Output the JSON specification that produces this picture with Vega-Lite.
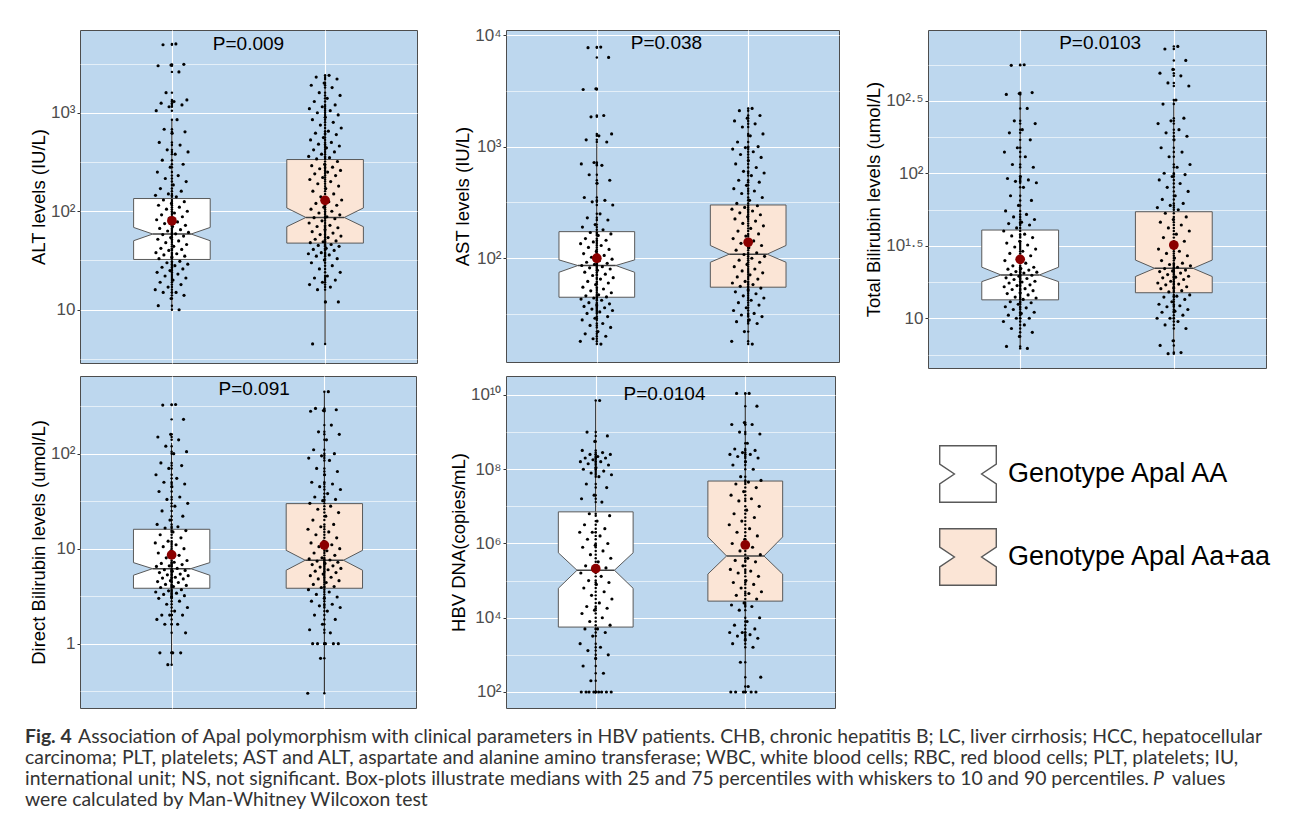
{
"$schema": "https://vega.github.io/schema/vega-lite/v6.json",
"background": "white",
"padding": {"left": 25, "top": 25, "right": 5, "bottom": 5},
"autosize": {"type": "pad"},
"columns": 3,
"align": "none",
"bounds": "flush",
"spacing": {"row": 8, "column": 89},
"resolve": {"scale": {"x": "independent", "y": "independent", "fill": "independent"}, "axis": {"x": "independent", "y": "independent"}, "legend": {"fill": "independent"}},
"datasets": {
"stats": [
{"p":"ALT","g":1,"geno":"Genotype Apal AA","lo":10,"q1":32.4,"n1":50.2,"med":58.7,"n2":68.5,"q3":134.6,"hi":850,"mean":80},
{"p":"ALT","g":2,"geno":"Genotype Apal Aa+aa","lo":4.5,"q1":47.5,"n1":69.7,"med":86.5,"n2":108,"q3":335,"hi":2400,"mean":129},
{"p":"AST","g":1,"geno":"Genotype Apal AA","lo":17,"q1":44.7,"n1":74.8,"med":86,"n2":96.6,"q3":173,"hi":1070,"mean":100},
{"p":"AST","g":2,"geno":"Genotype Apal Aa+aa","lo":17,"q1":55,"n1":92,"med":108.7,"n2":130,"q3":300,"hi":2240,"mean":139},
{"p":"TB","g":1,"geno":"Genotype Apal AA","lo":6.2,"q1":13.4,"n1":17.9,"med":19.9,"n2":22.5,"q3":40.6,"hi":360,"mean":25.5},
{"p":"TB","g":2,"geno":"Genotype Apal Aa+aa","lo":5.7,"q1":15.0,"n1":19.4,"med":22.1,"n2":25.2,"q3":54.3,"hi":320,"mean":32},
{"p":"DB","g":1,"geno":"Genotype Apal AA","lo":0.6,"q1":3.83,"n1":5.25,"med":6.16,"n2":7.13,"q3":16,"hi":130,"mean":8.6},
{"p":"DB","g":2,"geno":"Genotype Apal Aa+aa","lo":0.3,"q1":3.83,"n1":5.93,"med":7.55,"n2":9.6,"q3":29.8,"hi":457,"mean":10.9},
{"p":"HBV","g":1,"geno":"Genotype Apal AA","lo":100,"q1":5600,"n1":62000,"med":190000,"n2":560000,"q3":7100000,"hi":6800000000,"mean":210000},
{"p":"HBV","g":2,"geno":"Genotype Apal Aa+aa","lo":100,"q1":28000,"n1":150000,"med":460000,"n2":1500000,"q3":48000000,"hi":11500000000,"mean":910000}
],
"alt": [
{"g":1,"v":5000},{"g":1,"v":4900},{"g":1,"v":3100},{"g":1,"v":3050},{"g":1,"v":3000},{"g":1,"v":2600},{"g":1,"v":1600},{"g":1,"v":1350},{"g":1,"v":1300},{"g":1,"v":1250},{"g":1,"v":1200},{"g":1,"v":1150},{"g":1,"v":1050},{"g":1,"v":850},{"g":1,"v":680},{"g":1,"v":640},{"g":1,"v":620},{"g":1,"v":500},{"g":1,"v":470},{"g":1,"v":420},{"g":1,"v":400},{"g":1,"v":380},{"g":1,"v":330},{"g":1,"v":300},{"g":1,"v":280},{"g":1,"v":250},{"g":1,"v":230},{"g":1,"v":215},{"g":1,"v":200},{"g":1,"v":185},{"g":1,"v":170},{"g":1,"v":160},{"g":1,"v":150},{"g":1,"v":145},{"g":1,"v":140},{"g":1,"v":130},{"g":1,"v":125},{"g":1,"v":120},{"g":1,"v":115},{"g":1,"v":110},{"g":1,"v":105},{"g":1,"v":100},{"g":1,"v":96},{"g":1,"v":92},{"g":1,"v":88},{"g":1,"v":85},{"g":1,"v":82},{"g":1,"v":78},{"g":1,"v":75},{"g":1,"v":72},{"g":1,"v":70},{"g":1,"v":67},{"g":1,"v":65},{"g":1,"v":63},{"g":1,"v":61},{"g":1,"v":59},{"g":1,"v":58},{"g":1,"v":56},{"g":1,"v":54},{"g":1,"v":52},{"g":1,"v":50},{"g":1,"v":48},{"g":1,"v":46},{"g":1,"v":44},{"g":1,"v":42},{"g":1,"v":41},{"g":1,"v":40},{"g":1,"v":38},{"g":1,"v":37},{"g":1,"v":36},{"g":1,"v":35},{"g":1,"v":34},{"g":1,"v":33},{"g":1,"v":31},{"g":1,"v":30},{"g":1,"v":29},{"g":1,"v":28},{"g":1,"v":27},{"g":1,"v":26},{"g":1,"v":25},{"g":1,"v":24},{"g":1,"v":23},{"g":1,"v":22},{"g":1,"v":21},{"g":1,"v":20},{"g":1,"v":19},{"g":1,"v":18},{"g":1,"v":17},{"g":1,"v":16},{"g":1,"v":15},{"g":1,"v":15},{"g":1,"v":14},{"g":1,"v":13},{"g":1,"v":11},{"g":1,"v":10},
{"g":2,"v":2400},{"g":2,"v":2300},{"g":2,"v":2200},{"g":2,"v":2000},{"g":2,"v":1900},{"g":2,"v":1800},{"g":2,"v":1600},{"g":2,"v":1500},{"g":2,"v":1400},{"g":2,"v":1300},{"g":2,"v":1200},{"g":2,"v":1150},{"g":2,"v":1100},{"g":2,"v":1050},{"g":2,"v":1000},{"g":2,"v":950},{"g":2,"v":900},{"g":2,"v":850},{"g":2,"v":800},{"g":2,"v":750},{"g":2,"v":700},{"g":2,"v":650},{"g":2,"v":620},{"g":2,"v":600},{"g":2,"v":560},{"g":2,"v":530},{"g":2,"v":500},{"g":2,"v":480},{"g":2,"v":460},{"g":2,"v":440},{"g":2,"v":420},{"g":2,"v":400},{"g":2,"v":380},{"g":2,"v":360},{"g":2,"v":350},{"g":2,"v":340},{"g":2,"v":320},{"g":2,"v":300},{"g":2,"v":290},{"g":2,"v":280},{"g":2,"v":270},{"g":2,"v":260},{"g":2,"v":250},{"g":2,"v":240},{"g":2,"v":230},{"g":2,"v":220},{"g":2,"v":210},{"g":2,"v":200},{"g":2,"v":190},{"g":2,"v":180},{"g":2,"v":170},{"g":2,"v":160},{"g":2,"v":150},{"g":2,"v":140},{"g":2,"v":130},{"g":2,"v":125},{"g":2,"v":120},{"g":2,"v":115},{"g":2,"v":110},{"g":2,"v":105},{"g":2,"v":100},{"g":2,"v":96},{"g":2,"v":92},{"g":2,"v":88},{"g":2,"v":86},{"g":2,"v":84},{"g":2,"v":80},{"g":2,"v":76},{"g":2,"v":72},{"g":2,"v":70},{"g":2,"v":68},{"g":2,"v":65},{"g":2,"v":62},{"g":2,"v":60},{"g":2,"v":58},{"g":2,"v":56},{"g":2,"v":54},{"g":2,"v":52},{"g":2,"v":50},{"g":2,"v":49},{"g":2,"v":48},{"g":2,"v":46},{"g":2,"v":45},{"g":2,"v":44},{"g":2,"v":42},{"g":2,"v":41},{"g":2,"v":40},{"g":2,"v":38},{"g":2,"v":37},{"g":2,"v":36},{"g":2,"v":35},{"g":2,"v":33},{"g":2,"v":32},{"g":2,"v":30},{"g":2,"v":28},{"g":2,"v":26},{"g":2,"v":24},{"g":2,"v":22},{"g":2,"v":21},{"g":2,"v":20},{"g":2,"v":19},{"g":2,"v":18},{"g":2,"v":17},{"g":2,"v":16},{"g":2,"v":12},{"g":2,"v":12},{"g":2,"v":4.5}
],
"ast": [
{"g":1,"v":7800},{"g":1,"v":7700},{"g":1,"v":6300},{"g":1,"v":3300},{"g":1,"v":3250},{"g":1,"v":1900},{"g":1,"v":1850},{"g":1,"v":1300},{"g":1,"v":1250},{"g":1,"v":1150},{"g":1,"v":1100},{"g":1,"v":720},{"g":1,"v":700},{"g":1,"v":680},{"g":1,"v":560},{"g":1,"v":500},{"g":1,"v":470},{"g":1,"v":350},{"g":1,"v":330},{"g":1,"v":320},{"g":1,"v":300},{"g":1,"v":250},{"g":1,"v":230},{"g":1,"v":220},{"g":1,"v":200},{"g":1,"v":190},{"g":1,"v":180},{"g":1,"v":170},{"g":1,"v":165},{"g":1,"v":160},{"g":1,"v":150},{"g":1,"v":145},{"g":1,"v":140},{"g":1,"v":135},{"g":1,"v":130},{"g":1,"v":125},{"g":1,"v":120},{"g":1,"v":115},{"g":1,"v":110},{"g":1,"v":106},{"g":1,"v":102},{"g":1,"v":98},{"g":1,"v":95},{"g":1,"v":92},{"g":1,"v":90},{"g":1,"v":88},{"g":1,"v":86},{"g":1,"v":84},{"g":1,"v":82},{"g":1,"v":80},{"g":1,"v":78},{"g":1,"v":75},{"g":1,"v":72},{"g":1,"v":70},{"g":1,"v":67},{"g":1,"v":65},{"g":1,"v":62},{"g":1,"v":60},{"g":1,"v":58},{"g":1,"v":55},{"g":1,"v":53},{"g":1,"v":51},{"g":1,"v":49},{"g":1,"v":47},{"g":1,"v":46},{"g":1,"v":45},{"g":1,"v":44},{"g":1,"v":43},{"g":1,"v":42},{"g":1,"v":40},{"g":1,"v":39},{"g":1,"v":38},{"g":1,"v":37},{"g":1,"v":36},{"g":1,"v":35},{"g":1,"v":34},{"g":1,"v":33},{"g":1,"v":32},{"g":1,"v":30},{"g":1,"v":29},{"g":1,"v":28},{"g":1,"v":26},{"g":1,"v":25},{"g":1,"v":24},{"g":1,"v":22},{"g":1,"v":21},{"g":1,"v":20},{"g":1,"v":19},{"g":1,"v":18},{"g":1,"v":17},
{"g":2,"v":2200},{"g":2,"v":2100},{"g":2,"v":1900},{"g":2,"v":1800},{"g":2,"v":1700},{"g":2,"v":1600},{"g":2,"v":1500},{"g":2,"v":1300},{"g":2,"v":1250},{"g":2,"v":1100},{"g":2,"v":1000},{"g":2,"v":980},{"g":2,"v":950},{"g":2,"v":900},{"g":2,"v":850},{"g":2,"v":800},{"g":2,"v":750},{"g":2,"v":700},{"g":2,"v":650},{"g":2,"v":600},{"g":2,"v":580},{"g":2,"v":550},{"g":2,"v":500},{"g":2,"v":480},{"g":2,"v":450},{"g":2,"v":420},{"g":2,"v":400},{"g":2,"v":380},{"g":2,"v":350},{"g":2,"v":330},{"g":2,"v":310},{"g":2,"v":295},{"g":2,"v":285},{"g":2,"v":275},{"g":2,"v":265},{"g":2,"v":255},{"g":2,"v":245},{"g":2,"v":235},{"g":2,"v":225},{"g":2,"v":215},{"g":2,"v":205},{"g":2,"v":195},{"g":2,"v":185},{"g":2,"v":175},{"g":2,"v":165},{"g":2,"v":158},{"g":2,"v":150},{"g":2,"v":143},{"g":2,"v":136},{"g":2,"v":130},{"g":2,"v":124},{"g":2,"v":118},{"g":2,"v":112},{"g":2,"v":108},{"g":2,"v":104},{"g":2,"v":100},{"g":2,"v":96},{"g":2,"v":92},{"g":2,"v":88},{"g":2,"v":84},{"g":2,"v":80},{"g":2,"v":77},{"g":2,"v":74},{"g":2,"v":71},{"g":2,"v":68},{"g":2,"v":65},{"g":2,"v":62},{"g":2,"v":60},{"g":2,"v":58},{"g":2,"v":56},{"g":2,"v":54},{"g":2,"v":52},{"g":2,"v":50},{"g":2,"v":48},{"g":2,"v":46},{"g":2,"v":44},{"g":2,"v":42},{"g":2,"v":40},{"g":2,"v":38},{"g":2,"v":36},{"g":2,"v":34},{"g":2,"v":32},{"g":2,"v":31},{"g":2,"v":30},{"g":2,"v":28},{"g":2,"v":27},{"g":2,"v":26},{"g":2,"v":22},{"g":2,"v":18},{"g":2,"v":17}
],
"tb": [
{"g":1,"v":560},{"g":1,"v":555},{"g":1,"v":360},{"g":1,"v":355},{"g":1,"v":350},{"g":1,"v":280},{"g":1,"v":230},{"g":1,"v":220},{"g":1,"v":200},{"g":1,"v":190},{"g":1,"v":170},{"g":1,"v":150},{"g":1,"v":140},{"g":1,"v":130},{"g":1,"v":115},{"g":1,"v":110},{"g":1,"v":95},{"g":1,"v":92},{"g":1,"v":90},{"g":1,"v":88},{"g":1,"v":86},{"g":1,"v":80},{"g":1,"v":70},{"g":1,"v":65},{"g":1,"v":60},{"g":1,"v":55},{"g":1,"v":52},{"g":1,"v":50},{"g":1,"v":48},{"g":1,"v":46},{"g":1,"v":45},{"g":1,"v":44},{"g":1,"v":42},{"g":1,"v":40},{"g":1,"v":38},{"g":1,"v":37},{"g":1,"v":36},{"g":1,"v":34},{"g":1,"v":33},{"g":1,"v":32},{"g":1,"v":31},{"g":1,"v":30},{"g":1,"v":29},{"g":1,"v":28},{"g":1,"v":27},{"g":1,"v":26},{"g":1,"v":25},{"g":1,"v":24},{"g":1,"v":23},{"g":1,"v":22.5},{"g":1,"v":22},{"g":1,"v":21.8},{"g":1,"v":21.5},{"g":1,"v":21},{"g":1,"v":20.8},{"g":1,"v":20.5},{"g":1,"v":20},{"g":1,"v":19.8},{"g":1,"v":19.5},{"g":1,"v":19},{"g":1,"v":18.8},{"g":1,"v":18.5},{"g":1,"v":18},{"g":1,"v":17.8},{"g":1,"v":17.5},{"g":1,"v":17},{"g":1,"v":16.8},{"g":1,"v":16.5},{"g":1,"v":16},{"g":1,"v":15.8},{"g":1,"v":15.5},{"g":1,"v":15},{"g":1,"v":14.8},{"g":1,"v":14.5},{"g":1,"v":14},{"g":1,"v":13.8},{"g":1,"v":13.5},{"g":1,"v":13},{"g":1,"v":12.8},{"g":1,"v":12.5},{"g":1,"v":12},{"g":1,"v":11.8},{"g":1,"v":11.5},{"g":1,"v":11},{"g":1,"v":10.8},{"g":1,"v":10.5},{"g":1,"v":10},{"g":1,"v":10},{"g":1,"v":9.5},{"g":1,"v":9},{"g":1,"v":8.5},{"g":1,"v":8},{"g":1,"v":7.5},{"g":1,"v":6.4},{"g":1,"v":6.2},
{"g":2,"v":750},{"g":2,"v":720},{"g":2,"v":600},{"g":2,"v":520},{"g":2,"v":490},{"g":2,"v":470},{"g":2,"v":420},{"g":2,"v":400},{"g":2,"v":320},{"g":2,"v":300},{"g":2,"v":240},{"g":2,"v":230},{"g":2,"v":220},{"g":2,"v":200},{"g":2,"v":190},{"g":2,"v":180},{"g":2,"v":170},{"g":2,"v":150},{"g":2,"v":140},{"g":2,"v":130},{"g":2,"v":115},{"g":2,"v":110},{"g":2,"v":100},{"g":2,"v":98},{"g":2,"v":95},{"g":2,"v":90},{"g":2,"v":85},{"g":2,"v":80},{"g":2,"v":75},{"g":2,"v":70},{"g":2,"v":66},{"g":2,"v":62},{"g":2,"v":60},{"g":2,"v":58},{"g":2,"v":56},{"g":2,"v":53},{"g":2,"v":50},{"g":2,"v":48},{"g":2,"v":46},{"g":2,"v":44},{"g":2,"v":42},{"g":2,"v":40},{"g":2,"v":38},{"g":2,"v":36},{"g":2,"v":34},{"g":2,"v":32},{"g":2,"v":30},{"g":2,"v":29},{"g":2,"v":28},{"g":2,"v":27},{"g":2,"v":26},{"g":2,"v":25},{"g":2,"v":24},{"g":2,"v":23.5},{"g":2,"v":23},{"g":2,"v":22.5},{"g":2,"v":22},{"g":2,"v":21.5},{"g":2,"v":21.2},{"g":2,"v":21},{"g":2,"v":20.5},{"g":2,"v":20},{"g":2,"v":19.5},{"g":2,"v":19.2},{"g":2,"v":19},{"g":2,"v":18.5},{"g":2,"v":18},{"g":2,"v":17.5},{"g":2,"v":17.2},{"g":2,"v":17},{"g":2,"v":16.5},{"g":2,"v":16.2},{"g":2,"v":16},{"g":2,"v":15.5},{"g":2,"v":15.2},{"g":2,"v":14.5},{"g":2,"v":14.2},{"g":2,"v":14},{"g":2,"v":13.5},{"g":2,"v":13},{"g":2,"v":12.5},{"g":2,"v":12.2},{"g":2,"v":12},{"g":2,"v":11.5},{"g":2,"v":11.2},{"g":2,"v":11},{"g":2,"v":10.5},{"g":2,"v":10},{"g":2,"v":10},{"g":2,"v":9.5},{"g":2,"v":9},{"g":2,"v":8.5},{"g":2,"v":7},{"g":2,"v":6.5},{"g":2,"v":5.8},{"g":2,"v":5.7}
],
"db": [
{"g":1,"v":330},{"g":1,"v":325},{"g":1,"v":230},{"g":1,"v":160},{"g":1,"v":150},{"g":1,"v":140},{"g":1,"v":120},{"g":1,"v":105},{"g":1,"v":100},{"g":1,"v":80},{"g":1,"v":75},{"g":1,"v":70},{"g":1,"v":60},{"g":1,"v":55},{"g":1,"v":50},{"g":1,"v":48},{"g":1,"v":45},{"g":1,"v":40},{"g":1,"v":35},{"g":1,"v":33},{"g":1,"v":30},{"g":1,"v":28},{"g":1,"v":25},{"g":1,"v":22},{"g":1,"v":20},{"g":1,"v":18},{"g":1,"v":17},{"g":1,"v":16.5},{"g":1,"v":15.5},{"g":1,"v":15},{"g":1,"v":14},{"g":1,"v":13},{"g":1,"v":12},{"g":1,"v":11.5},{"g":1,"v":11},{"g":1,"v":10.5},{"g":1,"v":10},{"g":1,"v":9.5},{"g":1,"v":9},{"g":1,"v":8.5},{"g":1,"v":8},{"g":1,"v":7.5},{"g":1,"v":7.2},{"g":1,"v":7},{"g":1,"v":6.8},{"g":1,"v":6.6},{"g":1,"v":6.5},{"g":1,"v":6.2},{"g":1,"v":6},{"g":1,"v":5.9},{"g":1,"v":5.8},{"g":1,"v":5.6},{"g":1,"v":5.4},{"g":1,"v":5.3},{"g":1,"v":5.2},{"g":1,"v":5},{"g":1,"v":4.9},{"g":1,"v":4.8},{"g":1,"v":4.6},{"g":1,"v":4.5},{"g":1,"v":4.4},{"g":1,"v":4.2},{"g":1,"v":4.1},{"g":1,"v":4},{"g":1,"v":3.9},{"g":1,"v":3.7},{"g":1,"v":3.6},{"g":1,"v":3.5},{"g":1,"v":3.4},{"g":1,"v":3.3},{"g":1,"v":3.2},{"g":1,"v":3.1},{"g":1,"v":3},{"g":1,"v":2.8},{"g":1,"v":2.6},{"g":1,"v":2.4},{"g":1,"v":2.2},{"g":1,"v":2},{"g":1,"v":2},{"g":1,"v":2},{"g":1,"v":1.8},{"g":1,"v":1.6},{"g":1,"v":1.6},{"g":1,"v":1.3},{"g":1,"v":0.8},{"g":1,"v":0.8},{"g":1,"v":0.8},{"g":1,"v":0.6},
{"g":2,"v":450},{"g":2,"v":300},{"g":2,"v":290},{"g":2,"v":285},{"g":2,"v":280},{"g":2,"v":200},{"g":2,"v":170},{"g":2,"v":160},{"g":2,"v":140},{"g":2,"v":110},{"g":2,"v":100},{"g":2,"v":95},{"g":2,"v":90},{"g":2,"v":85},{"g":2,"v":70},{"g":2,"v":65},{"g":2,"v":60},{"g":2,"v":50},{"g":2,"v":48},{"g":2,"v":45},{"g":2,"v":42},{"g":2,"v":38},{"g":2,"v":35},{"g":2,"v":33},{"g":2,"v":32},{"g":2,"v":30},{"g":2,"v":28},{"g":2,"v":26},{"g":2,"v":24},{"g":2,"v":22},{"g":2,"v":20},{"g":2,"v":18},{"g":2,"v":17},{"g":2,"v":16},{"g":2,"v":15},{"g":2,"v":14},{"g":2,"v":13},{"g":2,"v":12},{"g":2,"v":11.5},{"g":2,"v":11},{"g":2,"v":10.5},{"g":2,"v":10},{"g":2,"v":9.5},{"g":2,"v":9},{"g":2,"v":8.5},{"g":2,"v":8},{"g":2,"v":7.8},{"g":2,"v":7.6},{"g":2,"v":7.4},{"g":2,"v":7.2},{"g":2,"v":7},{"g":2,"v":6.8},{"g":2,"v":6.6},{"g":2,"v":6.4},{"g":2,"v":6.2},{"g":2,"v":6},{"g":2,"v":5.8},{"g":2,"v":5.6},{"g":2,"v":5.4},{"g":2,"v":5.2},{"g":2,"v":5},{"g":2,"v":4.8},{"g":2,"v":4.6},{"g":2,"v":4.4},{"g":2,"v":4.2},{"g":2,"v":4},{"g":2,"v":3.9},{"g":2,"v":3.7},{"g":2,"v":3.5},{"g":2,"v":3.3},{"g":2,"v":3.1},{"g":2,"v":3},{"g":2,"v":2.8},{"g":2,"v":2.6},{"g":2,"v":2.5},{"g":2,"v":2.4},{"g":2,"v":2.2},{"g":2,"v":2},{"g":2,"v":1.8},{"g":2,"v":1.6},{"g":2,"v":1.4},{"g":2,"v":1.3},{"g":2,"v":1},{"g":2,"v":1},{"g":2,"v":1},{"g":2,"v":1},{"g":2,"v":1},{"g":2,"v":0.7},{"g":2,"v":0.3}
],
"hbv": [
{"g":1,"v":7.1e9},{"g":1,"v":1.0e9},{"g":1,"v":7.9e8},{"g":1,"v":5.6e8},{"g":1,"v":3.2e8},{"g":1,"v":2.8e8},{"g":1,"v":2.5e8},{"g":1,"v":2.5e8},{"g":1,"v":2.2e8},{"g":1,"v":2.0e8},{"g":1,"v":2.0e8},{"g":1,"v":1.8e8},{"g":1,"v":1.6e8},{"g":1,"v":1.6e8},{"g":1,"v":1.4e8},{"g":1,"v":1.3e8},{"g":1,"v":1.1e8},{"g":1,"v":1.0e8},{"g":1,"v":8.9e7},{"g":1,"v":7.9e7},{"g":1,"v":7.1e7},{"g":1,"v":6.3e7},{"g":1,"v":4.0e7},{"g":1,"v":3.2e7},{"g":1,"v":2.0e7},{"g":1,"v":1.6e7},{"g":1,"v":1.3e7},{"g":1,"v":6.3e6},{"g":1,"v":5.6e6},{"g":1,"v":4.0e6},{"g":1,"v":3.2e6},{"g":1,"v":2.5e6},{"g":1,"v":2.0e6},{"g":1,"v":2.0e6},{"g":1,"v":1.6e6},{"g":1,"v":1.3e6},{"g":1,"v":1.0e6},{"g":1,"v":8.9e5},{"g":1,"v":7.9e5},{"g":1,"v":6.3e5},{"g":1,"v":5.0e5},{"g":1,"v":4.0e5},{"g":1,"v":3.2e5},{"g":1,"v":2.5e5},{"g":1,"v":2.2e5},{"g":1,"v":2.0e5},{"g":1,"v":1.6e5},{"g":1,"v":1.3e5},{"g":1,"v":1.0e5},{"g":1,"v":8.9e4},{"g":1,"v":7.9e4},{"g":1,"v":6.3e4},{"g":1,"v":5.0e4},{"g":1,"v":4.0e4},{"g":1,"v":3.2e4},{"g":1,"v":2.5e4},{"g":1,"v":2.0e4},{"g":1,"v":1.8e4},{"g":1,"v":1.6e4},{"g":1,"v":1.3e4},{"g":1,"v":1.0e4},{"g":1,"v":7.9e3},{"g":1,"v":6.3e3},{"g":1,"v":5.0e3},{"g":1,"v":5.0e3},{"g":1,"v":4.0e3},{"g":1,"v":3.2e3},{"g":1,"v":2.0e3},{"g":1,"v":1.6e3},{"g":1,"v":1.3e3},{"g":1,"v":1.0e3},{"g":1,"v":800},{"g":1,"v":500},{"g":1,"v":320},{"g":1,"v":200},{"g":1,"v":100},{"g":1,"v":100},{"g":1,"v":100},{"g":1,"v":100},{"g":1,"v":100},{"g":1,"v":100},{"g":1,"v":100},{"g":1,"v":100},
{"g":2,"v":1.1e10},{"g":2,"v":1.1e10},{"g":2,"v":5.0e9},{"g":2,"v":1.8e9},{"g":2,"v":1.6e9},{"g":2,"v":1.6e9},{"g":2,"v":1.0e9},{"g":2,"v":8.9e8},{"g":2,"v":5.0e8},{"g":2,"v":3.5e8},{"g":2,"v":3.2e8},{"g":2,"v":2.8e8},{"g":2,"v":2.5e8},{"g":2,"v":2.5e8},{"g":2,"v":2.2e8},{"g":2,"v":2.0e8},{"g":2,"v":1.6e8},{"g":2,"v":1.3e8},{"g":2,"v":1.0e8},{"g":2,"v":6.3e7},{"g":2,"v":5.0e7},{"g":2,"v":4.5e7},{"g":2,"v":4.0e7},{"g":2,"v":3.2e7},{"g":2,"v":2.5e7},{"g":2,"v":2.0e7},{"g":2,"v":1.6e7},{"g":2,"v":1.4e7},{"g":2,"v":1.0e7},{"g":2,"v":7.9e6},{"g":2,"v":6.3e6},{"g":2,"v":5.0e6},{"g":2,"v":4.0e6},{"g":2,"v":3.2e6},{"g":2,"v":2.5e6},{"g":2,"v":2.0e6},{"g":2,"v":1.6e6},{"g":2,"v":1.3e6},{"g":2,"v":1.0e6},{"g":2,"v":7.9e5},{"g":2,"v":6.3e5},{"g":2,"v":5.0e5},{"g":2,"v":4.0e5},{"g":2,"v":3.5e5},{"g":2,"v":3.2e5},{"g":2,"v":2.5e5},{"g":2,"v":2.0e5},{"g":2,"v":1.8e5},{"g":2,"v":1.6e5},{"g":2,"v":1.3e5},{"g":2,"v":1.0e5},{"g":2,"v":8.9e4},{"g":2,"v":7.9e4},{"g":2,"v":6.3e4},{"g":2,"v":5.0e4},{"g":2,"v":4.5e4},{"g":2,"v":4.0e4},{"g":2,"v":3.2e4},{"g":2,"v":2.5e4},{"g":2,"v":2.2e4},{"g":2,"v":2.0e4},{"g":2,"v":1.6e4},{"g":2,"v":1.0e4},{"g":2,"v":7.9e3},{"g":2,"v":6.3e3},{"g":2,"v":5.0e3},{"g":2,"v":4.0e3},{"g":2,"v":4.0e3},{"g":2,"v":3.5e3},{"g":2,"v":3.2e3},{"g":2,"v":2.8e3},{"g":2,"v":2.5e3},{"g":2,"v":2.0e3},{"g":2,"v":1.6e3},{"g":2,"v":630},{"g":2,"v":250},{"g":2,"v":140},{"g":2,"v":100},{"g":2,"v":100},{"g":2,"v":100},{"g":2,"v":100},{"g":2,"v":100}
]
},
"concat": [
{
"width": 337, "height": 333,
"layer": [
{"data": {"name": "stats"}, "transform": [{"filter": "datum.p=='ALT'"}],
 "mark": {"type": "rule", "color": "black", "strokeWidth": 0.9},
 "encoding": {
  "x": {"field": "g", "type": "quantitative", "scale": {"domain": [0.4, 2.6], "nice": false, "zero": false}, "axis": {"values": [1, 2], "grid": true, "gridWidth": 1.1, "labels": false, "ticks": false, "domain": false, "title": null}},
  "y": {"field": "lo", "type": "quantitative", "scale": {"type": "log", "domain": [2.88, 6920], "nice": false}, "axis": {"title": "ALT levels (IU/L)", "values": [3.1623, 10, 31.623, 100, 316.23, 1000, 3162.3], "labelExpr": "abs(log(datum.value)/LN10-1)<0.01 ? '10' : abs(log(datum.value)/LN10-2)<0.01 ? '10²' : abs(log(datum.value)/LN10-3)<0.01 ? '10³' : ''", "gridWidth": {"condition": {"test": "abs(log(datum.value)/LN10-round(log(datum.value)/LN10))>0.01", "value": 0.6}, "value": 1.2}, "tickOpacity": {"condition": {"test": "abs(log(datum.value)/LN10-round(log(datum.value)/LN10))>0.01", "value": 0}, "value": 1}}},
  "y2": {"field": "hi"}
 }},
{"data": {"name": "stats"}, "transform": [{"filter": "datum.p=='ALT'"}, {"fold": ["q1", "n1", "med", "n2", "q3"], "as": ["k", "yv"]}, {"calculate": "datum.g - (datum.k=='med' ? 0.125 : 0.25)", "as": "xl"}, {"calculate": "datum.g + (datum.k=='med' ? 0.125 : 0.25)", "as": "xr"}],
 "mark": {"type": "area", "orient": "horizontal", "stroke": "#595959", "strokeWidth": 1, "opacity": 1},
 "encoding": {
  "y": {"field": "yv", "type": "quantitative", "scale": {"type": "log", "domain": [2.88, 6920], "nice": false}},
  "x": {"field": "xl", "type": "quantitative", "scale": {"domain": [0.4, 2.6], "nice": false, "zero": false}, "stack": null},
  "x2": {"field": "xr"},
  "detail": {"field": "g"},
  "fill": {"field": "geno", "type": "nominal", "scale": {"domain": ["Genotype Apal AA", "Genotype Apal Aa+aa"], "range": ["#FFFFFF", "#FBE5D6"]}, "legend": null}
 }},
{"data": {"name": "stats"}, "transform": [{"filter": "datum.p=='ALT'"}, {"calculate": "datum.g-0.125", "as": "ml"}, {"calculate": "datum.g+0.125", "as": "mr"}],
 "mark": {"type": "rule", "color": "#404040", "strokeWidth": 1.5},
 "encoding": {"x": {"field": "ml", "type": "quantitative", "scale": {"domain": [0.4, 2.6], "nice": false, "zero": false}}, "x2": {"field": "mr"}, "y": {"field": "med", "type": "quantitative", "scale": {"type": "log", "domain": [2.88, 6920], "nice": false}}}},
{"data": {"name": "alt"},
 "mark": {"type": "circle", "color": "black", "size": 6, "opacity": 1},
 "encoding": {"x": {"field": "g", "type": "quantitative", "scale": {"domain": [0.4, 2.6], "nice": false, "zero": false}}, "y": {"field": "v", "type": "quantitative", "scale": {"type": "log", "domain": [2.88, 6920], "nice": false}}}},
{"data": {"name": "alt"}, "transform": [{"window": [{"op": "row_number", "as": "i"}], "groupby": ["g"]}, {"calculate": "datum.g + ((datum.i*0.618034)%1 - 0.5)*0.22", "as": "xj"}],
 "mark": {"type": "circle", "color": "black", "size": 10, "opacity": 1},
 "encoding": {"x": {"field": "xj", "type": "quantitative", "scale": {"domain": [0.4, 2.6], "nice": false, "zero": false}}, "y": {"field": "v", "type": "quantitative", "scale": {"type": "log", "domain": [2.88, 6920], "nice": false}}}},
{"data": {"name": "stats"}, "transform": [{"filter": "datum.p=='ALT'"}],
 "mark": {"type": "circle", "color": "#8B0000", "size": 95, "opacity": 1},
 "encoding": {"x": {"field": "g", "type": "quantitative", "scale": {"domain": [0.4, 2.6], "nice": false, "zero": false}}, "y": {"field": "mean", "type": "quantitative", "scale": {"type": "log", "domain": [2.88, 6920], "nice": false}}}},
{"data": {"values": [{"t": "P=0.009"}]},
 "mark": {"type": "text", "font": "Liberation Sans", "fontSize": 19, "color": "black"},
 "encoding": {"text": {"field": "t"}, "x": {"datum": 1.5}, "y": {"datum": 5000}}}
]
},
{
"width": 333, "height": 332,
"layer": [
{"data": {"name": "stats"}, "transform": [{"filter": "datum.p=='AST'"}],
 "mark": {"type": "rule", "color": "black", "strokeWidth": 0.9},
 "encoding": {
  "x": {"field": "g", "type": "quantitative", "scale": {"domain": [0.4, 2.6], "nice": false, "zero": false}, "axis": {"values": [1, 2], "grid": true, "gridWidth": 1.1, "labels": false, "ticks": false, "domain": false, "title": null}},
  "y": {"field": "lo", "type": "quantitative", "scale": {"type": "log", "domain": [11.75, 11090], "nice": false}, "axis": {"title": "AST levels (IU/L)", "values": [31.623, 100, 316.23, 1000, 3162.3, 10000], "labelExpr": "abs(log(datum.value)/LN10-2)<0.01 ? '10²' : abs(log(datum.value)/LN10-3)<0.01 ? '10³' : abs(log(datum.value)/LN10-4)<0.01 ? '10⁴' : ''", "gridWidth": {"condition": {"test": "abs(log(datum.value)/LN10-round(log(datum.value)/LN10))>0.01", "value": 0.6}, "value": 1.2}, "tickOpacity": {"condition": {"test": "abs(log(datum.value)/LN10-round(log(datum.value)/LN10))>0.01", "value": 0}, "value": 1}}},
  "y2": {"field": "hi"}
 }},
{"data": {"name": "stats"}, "transform": [{"filter": "datum.p=='AST'"}, {"fold": ["q1", "n1", "med", "n2", "q3"], "as": ["k", "yv"]}, {"calculate": "datum.g - (datum.k=='med' ? 0.125 : 0.25)", "as": "xl"}, {"calculate": "datum.g + (datum.k=='med' ? 0.125 : 0.25)", "as": "xr"}],
 "mark": {"type": "area", "orient": "horizontal", "stroke": "#595959", "strokeWidth": 1, "opacity": 1},
 "encoding": {
  "y": {"field": "yv", "type": "quantitative", "scale": {"type": "log", "domain": [11.75, 11090], "nice": false}},
  "x": {"field": "xl", "type": "quantitative", "scale": {"domain": [0.4, 2.6], "nice": false, "zero": false}, "stack": null},
  "x2": {"field": "xr"},
  "detail": {"field": "g"},
  "fill": {"field": "geno", "type": "nominal", "scale": {"domain": ["Genotype Apal AA", "Genotype Apal Aa+aa"], "range": ["#FFFFFF", "#FBE5D6"]}, "legend": null}
 }},
{"data": {"name": "stats"}, "transform": [{"filter": "datum.p=='AST'"}, {"calculate": "datum.g-0.125", "as": "ml"}, {"calculate": "datum.g+0.125", "as": "mr"}],
 "mark": {"type": "rule", "color": "#404040", "strokeWidth": 1.5},
 "encoding": {"x": {"field": "ml", "type": "quantitative", "scale": {"domain": [0.4, 2.6], "nice": false, "zero": false}}, "x2": {"field": "mr"}, "y": {"field": "med", "type": "quantitative", "scale": {"type": "log", "domain": [11.75, 11090], "nice": false}}}},
{"data": {"name": "ast"},
 "mark": {"type": "circle", "color": "black", "size": 6, "opacity": 1},
 "encoding": {"x": {"field": "g", "type": "quantitative", "scale": {"domain": [0.4, 2.6], "nice": false, "zero": false}}, "y": {"field": "v", "type": "quantitative", "scale": {"type": "log", "domain": [11.75, 11090], "nice": false}}}},
{"data": {"name": "ast"}, "transform": [{"window": [{"op": "row_number", "as": "i"}], "groupby": ["g"]}, {"calculate": "datum.g + ((datum.i*0.618034)%1 - 0.5)*0.22", "as": "xj"}],
 "mark": {"type": "circle", "color": "black", "size": 10, "opacity": 1},
 "encoding": {"x": {"field": "xj", "type": "quantitative", "scale": {"domain": [0.4, 2.6], "nice": false, "zero": false}}, "y": {"field": "v", "type": "quantitative", "scale": {"type": "log", "domain": [11.75, 11090], "nice": false}}}},
{"data": {"name": "stats"}, "transform": [{"filter": "datum.p=='AST'"}],
 "mark": {"type": "circle", "color": "#8B0000", "size": 95, "opacity": 1},
 "encoding": {"x": {"field": "g", "type": "quantitative", "scale": {"domain": [0.4, 2.6], "nice": false, "zero": false}}, "y": {"field": "mean", "type": "quantitative", "scale": {"type": "log", "domain": [11.75, 11090], "nice": false}}}},
{"data": {"values": [{"t": "P=0.038"}]},
 "mark": {"type": "text", "font": "Liberation Sans", "fontSize": 19, "color": "black"},
 "encoding": {"text": {"field": "t"}, "x": {"datum": 1.46}, "y": {"datum": 8470}}}
]
},
{
"width": 338, "height": 338,
"layer": [
{"data": {"name": "stats"}, "transform": [{"filter": "datum.p=='TB'"}],
 "mark": {"type": "rule", "color": "black", "strokeWidth": 0.9},
 "encoding": {
  "x": {"field": "g", "type": "quantitative", "scale": {"domain": [0.4, 2.6], "nice": false, "zero": false}, "axis": {"values": [1, 2], "grid": true, "gridWidth": 1.1, "labels": false, "ticks": false, "domain": false, "title": null}},
  "y": {"field": "lo", "type": "quantitative", "scale": {"type": "log", "domain": [4.54, 973], "nice": false}, "axis": {"title": "Total Bilirubin levels (umol/L)", "values": [5.6234, 10, 17.783, 31.623, 56.234, 100, 177.83, 316.23, 562.34], "labelExpr": "abs(log(datum.value)/LN10-1)<0.01 ? '10' : abs(log(datum.value)/LN10-1.5)<0.01 ? '10¹·⁵' : abs(log(datum.value)/LN10-2)<0.01 ? '10²' : abs(log(datum.value)/LN10-2.5)<0.01 ? '10²·⁵' : ''", "gridWidth": {"condition": {"test": "abs(2*log(datum.value)/LN10-round(2*log(datum.value)/LN10))>0.01", "value": 0.6}, "value": 1.2}, "tickOpacity": {"condition": {"test": "abs(2*log(datum.value)/LN10-round(2*log(datum.value)/LN10))>0.01", "value": 0}, "value": 1}}},
  "y2": {"field": "hi"}
 }},
{"data": {"name": "stats"}, "transform": [{"filter": "datum.p=='TB'"}, {"fold": ["q1", "n1", "med", "n2", "q3"], "as": ["k", "yv"]}, {"calculate": "datum.g - (datum.k=='med' ? 0.125 : 0.25)", "as": "xl"}, {"calculate": "datum.g + (datum.k=='med' ? 0.125 : 0.25)", "as": "xr"}],
 "mark": {"type": "area", "orient": "horizontal", "stroke": "#595959", "strokeWidth": 1, "opacity": 1},
 "encoding": {
  "y": {"field": "yv", "type": "quantitative", "scale": {"type": "log", "domain": [4.54, 973], "nice": false}},
  "x": {"field": "xl", "type": "quantitative", "scale": {"domain": [0.4, 2.6], "nice": false, "zero": false}, "stack": null},
  "x2": {"field": "xr"},
  "detail": {"field": "g"},
  "fill": {"field": "geno", "type": "nominal", "scale": {"domain": ["Genotype Apal AA", "Genotype Apal Aa+aa"], "range": ["#FFFFFF", "#FBE5D6"]}, "legend": null}
 }},
{"data": {"name": "stats"}, "transform": [{"filter": "datum.p=='TB'"}, {"calculate": "datum.g-0.125", "as": "ml"}, {"calculate": "datum.g+0.125", "as": "mr"}],
 "mark": {"type": "rule", "color": "#404040", "strokeWidth": 1.5},
 "encoding": {"x": {"field": "ml", "type": "quantitative", "scale": {"domain": [0.4, 2.6], "nice": false, "zero": false}}, "x2": {"field": "mr"}, "y": {"field": "med", "type": "quantitative", "scale": {"type": "log", "domain": [4.54, 973], "nice": false}}}},
{"data": {"name": "tb"},
 "mark": {"type": "circle", "color": "black", "size": 6, "opacity": 1},
 "encoding": {"x": {"field": "g", "type": "quantitative", "scale": {"domain": [0.4, 2.6], "nice": false, "zero": false}}, "y": {"field": "v", "type": "quantitative", "scale": {"type": "log", "domain": [4.54, 973], "nice": false}}}},
{"data": {"name": "tb"}, "transform": [{"window": [{"op": "row_number", "as": "i"}], "groupby": ["g"]}, {"calculate": "datum.g + ((datum.i*0.618034)%1 - 0.5)*0.22", "as": "xj"}],
 "mark": {"type": "circle", "color": "black", "size": 10, "opacity": 1},
 "encoding": {"x": {"field": "xj", "type": "quantitative", "scale": {"domain": [0.4, 2.6], "nice": false, "zero": false}}, "y": {"field": "v", "type": "quantitative", "scale": {"type": "log", "domain": [4.54, 973], "nice": false}}}},
{"data": {"name": "stats"}, "transform": [{"filter": "datum.p=='TB'"}],
 "mark": {"type": "circle", "color": "#8B0000", "size": 95, "opacity": 1},
 "encoding": {"x": {"field": "g", "type": "quantitative", "scale": {"domain": [0.4, 2.6], "nice": false, "zero": false}}, "y": {"field": "mean", "type": "quantitative", "scale": {"type": "log", "domain": [4.54, 973], "nice": false}}}},
{"data": {"values": [{"t": "P=0.0103"}]},
 "mark": {"type": "text", "font": "Liberation Sans", "fontSize": 19, "color": "black"},
 "encoding": {"text": {"field": "t"}, "x": {"datum": 1.52}, "y": {"datum": 789}}}
]
},
{
"width": 336, "height": 332,
"layer": [
{"data": {"name": "stats"}, "transform": [{"filter": "datum.p=='DB'"}],
 "mark": {"type": "rule", "color": "black", "strokeWidth": 0.9},
 "encoding": {
  "x": {"field": "g", "type": "quantitative", "scale": {"domain": [0.4, 2.6], "nice": false, "zero": false}, "axis": {"values": [1, 2], "grid": true, "gridWidth": 1.1, "labels": false, "ticks": false, "domain": false, "title": null}},
  "y": {"field": "lo", "type": "quantitative", "scale": {"type": "log", "domain": [0.21, 658], "nice": false}, "axis": {"title": "Direct Bilirubin levels (umol/L)", "values": [0.31623, 1, 3.1623, 10, 31.623, 100, 316.23], "labelExpr": "abs(log(datum.value)/LN10)<0.01 ? '1' : abs(log(datum.value)/LN10-1)<0.01 ? '10' : abs(log(datum.value)/LN10-2)<0.01 ? '10²' : ''", "gridWidth": {"condition": {"test": "abs(log(datum.value)/LN10-round(log(datum.value)/LN10))>0.01", "value": 0.6}, "value": 1.2}, "tickOpacity": {"condition": {"test": "abs(log(datum.value)/LN10-round(log(datum.value)/LN10))>0.01", "value": 0}, "value": 1}}},
  "y2": {"field": "hi"}
 }},
{"data": {"name": "stats"}, "transform": [{"filter": "datum.p=='DB'"}, {"fold": ["q1", "n1", "med", "n2", "q3"], "as": ["k", "yv"]}, {"calculate": "datum.g - (datum.k=='med' ? 0.125 : 0.25)", "as": "xl"}, {"calculate": "datum.g + (datum.k=='med' ? 0.125 : 0.25)", "as": "xr"}],
 "mark": {"type": "area", "orient": "horizontal", "stroke": "#595959", "strokeWidth": 1, "opacity": 1},
 "encoding": {
  "y": {"field": "yv", "type": "quantitative", "scale": {"type": "log", "domain": [0.21, 658], "nice": false}},
  "x": {"field": "xl", "type": "quantitative", "scale": {"domain": [0.4, 2.6], "nice": false, "zero": false}, "stack": null},
  "x2": {"field": "xr"},
  "detail": {"field": "g"},
  "fill": {"field": "geno", "type": "nominal", "scale": {"domain": ["Genotype Apal AA", "Genotype Apal Aa+aa"], "range": ["#FFFFFF", "#FBE5D6"]}, "legend": null}
 }},
{"data": {"name": "stats"}, "transform": [{"filter": "datum.p=='DB'"}, {"calculate": "datum.g-0.125", "as": "ml"}, {"calculate": "datum.g+0.125", "as": "mr"}],
 "mark": {"type": "rule", "color": "#404040", "strokeWidth": 1.5},
 "encoding": {"x": {"field": "ml", "type": "quantitative", "scale": {"domain": [0.4, 2.6], "nice": false, "zero": false}}, "x2": {"field": "mr"}, "y": {"field": "med", "type": "quantitative", "scale": {"type": "log", "domain": [0.21, 658], "nice": false}}}},
{"data": {"name": "db"},
 "mark": {"type": "circle", "color": "black", "size": 6, "opacity": 1},
 "encoding": {"x": {"field": "g", "type": "quantitative", "scale": {"domain": [0.4, 2.6], "nice": false, "zero": false}}, "y": {"field": "v", "type": "quantitative", "scale": {"type": "log", "domain": [0.21, 658], "nice": false}}}},
{"data": {"name": "db"}, "transform": [{"window": [{"op": "row_number", "as": "i"}], "groupby": ["g"]}, {"calculate": "datum.g + ((datum.i*0.618034)%1 - 0.5)*0.22", "as": "xj"}],
 "mark": {"type": "circle", "color": "black", "size": 10, "opacity": 1},
 "encoding": {"x": {"field": "xj", "type": "quantitative", "scale": {"domain": [0.4, 2.6], "nice": false, "zero": false}}, "y": {"field": "v", "type": "quantitative", "scale": {"type": "log", "domain": [0.21, 658], "nice": false}}}},
{"data": {"name": "stats"}, "transform": [{"filter": "datum.p=='DB'"}],
 "mark": {"type": "circle", "color": "#8B0000", "size": 95, "opacity": 1},
 "encoding": {"x": {"field": "g", "type": "quantitative", "scale": {"domain": [0.4, 2.6], "nice": false, "zero": false}}, "y": {"field": "mean", "type": "quantitative", "scale": {"type": "log", "domain": [0.21, 658], "nice": false}}}},
{"data": {"values": [{"t": "P=0.091"}]},
 "mark": {"type": "text", "font": "Liberation Sans", "fontSize": 19, "color": "black"},
 "encoding": {"text": {"field": "t"}, "x": {"datum": 1.54}, "y": {"datum": 476}}}
]
},
{
"width": 329, "height": 332,
"layer": [
{"data": {"name": "stats"}, "transform": [{"filter": "datum.p=='HBV'"}],
 "mark": {"type": "rule", "color": "black", "strokeWidth": 0.9},
 "encoding": {
  "x": {"field": "g", "type": "quantitative", "scale": {"domain": [0.4, 2.6], "nice": false, "zero": false}, "axis": {"values": [1, 2], "grid": true, "gridWidth": 1.1, "labels": false, "ticks": false, "domain": false, "title": null}},
  "y": {"field": "lo", "type": "quantitative", "scale": {"type": "log", "domain": [37, 3.24e10], "nice": false}, "axis": {"title": "HBV DNA(copies/mL)", "values": [100, 1000, 10000, 100000, 1000000, 10000000, 100000000, 1000000000, 10000000000], "labelExpr": "abs(log(datum.value)/LN10-2)<0.01 ? '10²' : abs(log(datum.value)/LN10-4)<0.01 ? '10⁴' : abs(log(datum.value)/LN10-6)<0.01 ? '10⁶' : abs(log(datum.value)/LN10-8)<0.01 ? '10⁸' : abs(log(datum.value)/LN10-10)<0.01 ? '10¹⁰' : ''", "gridWidth": {"condition": {"test": "abs(log(datum.value)/LN10/2-round(log(datum.value)/LN10/2))>0.01", "value": 0.6}, "value": 1.2}, "tickOpacity": {"condition": {"test": "abs(log(datum.value)/LN10/2-round(log(datum.value)/LN10/2))>0.01", "value": 0}, "value": 1}}},
  "y2": {"field": "hi"}
 }},
{"data": {"name": "stats"}, "transform": [{"filter": "datum.p=='HBV'"}, {"fold": ["q1", "n1", "med", "n2", "q3"], "as": ["k", "yv"]}, {"calculate": "datum.g - (datum.k=='med' ? 0.125 : 0.25)", "as": "xl"}, {"calculate": "datum.g + (datum.k=='med' ? 0.125 : 0.25)", "as": "xr"}],
 "mark": {"type": "area", "orient": "horizontal", "stroke": "#595959", "strokeWidth": 1, "opacity": 1},
 "encoding": {
  "y": {"field": "yv", "type": "quantitative", "scale": {"type": "log", "domain": [37, 3.24e10], "nice": false}},
  "x": {"field": "xl", "type": "quantitative", "scale": {"domain": [0.4, 2.6], "nice": false, "zero": false}, "stack": null},
  "x2": {"field": "xr"},
  "detail": {"field": "g"},
  "fill": {"field": "geno", "type": "nominal", "scale": {"domain": ["Genotype Apal AA", "Genotype Apal Aa+aa"], "range": ["#FFFFFF", "#FBE5D6"]},
   "legend": {"orient": "none", "legendX": 433, "legendY": 69, "title": null, "padding": 0, "symbolType": "M-1,-1H1V-0.35L0.48,0L1,0.35V1H-1V0.35L-0.48,0L-1,-0.35Z", "symbolSize": 3200, "symbolStrokeWidth": 1.4, "labelFont": "Liberation Sans", "labelFontSize": 27, "labelColor": "black", "labelOffset": 11, "labelLimit": 400, "rowPadding": 19, "encode": {"symbols": {"stroke": {"condition": {"test": "datum.value === 'Genotype Apal Aa+aa'", "value": "#4472C4"}, "value": "#404040"}}}}}
 }},
{"data": {"name": "stats"}, "transform": [{"filter": "datum.p=='HBV'"}, {"calculate": "datum.g-0.125", "as": "ml"}, {"calculate": "datum.g+0.125", "as": "mr"}],
 "mark": {"type": "rule", "color": "#404040", "strokeWidth": 1.5},
 "encoding": {"x": {"field": "ml", "type": "quantitative", "scale": {"domain": [0.4, 2.6], "nice": false, "zero": false}}, "x2": {"field": "mr"}, "y": {"field": "med", "type": "quantitative", "scale": {"type": "log", "domain": [37, 3.24e10], "nice": false}}}},
{"data": {"name": "hbv"},
 "mark": {"type": "circle", "color": "black", "size": 6, "opacity": 1},
 "encoding": {"x": {"field": "g", "type": "quantitative", "scale": {"domain": [0.4, 2.6], "nice": false, "zero": false}}, "y": {"field": "v", "type": "quantitative", "scale": {"type": "log", "domain": [37, 3.24e10], "nice": false}}}},
{"data": {"name": "hbv"}, "transform": [{"window": [{"op": "row_number", "as": "i"}], "groupby": ["g"]}, {"calculate": "datum.g + ((datum.i*0.618034)%1 - 0.5)*0.22", "as": "xj"}],
 "mark": {"type": "circle", "color": "black", "size": 10, "opacity": 1},
 "encoding": {"x": {"field": "xj", "type": "quantitative", "scale": {"domain": [0.4, 2.6], "nice": false, "zero": false}}, "y": {"field": "v", "type": "quantitative", "scale": {"type": "log", "domain": [37, 3.24e10], "nice": false}}}},
{"data": {"name": "stats"}, "transform": [{"filter": "datum.p=='HBV'"}],
 "mark": {"type": "circle", "color": "#8B0000", "size": 95, "opacity": 1},
 "encoding": {"x": {"field": "g", "type": "quantitative", "scale": {"domain": [0.4, 2.6], "nice": false, "zero": false}}, "y": {"field": "mean", "type": "quantitative", "scale": {"type": "log", "domain": [37, 3.24e10], "nice": false}}}},
{"data": {"values": [{"t": "P=0.0104"}]},
 "mark": {"type": "text", "font": "Liberation Sans", "fontSize": 19, "color": "black"},
 "encoding": {"text": {"field": "t"}, "x": {"datum": 1.46}, "y": {"datum": 1.07e10}}}
]
},
{
"width": 10, "height": 10,
"view": {"fill": null, "stroke": null},
"data": {"values": [{"a": 1}]},
"mark": {"type": "point", "opacity": 0},
"encoding": {}
},
{
"width": 10, "height": 95,
"view": {"fill": null, "stroke": null},
"layer": [
{"data": {"values": [{"line": 1, "t": "Fig. 4"}]},
 "mark": {"type": "text", "align": "left", "baseline": "alphabetic", "font": "Lato", "fontSize": 19.4, "fontWeight": "bold", "color": "#333333"},
 "encoding": {"x": {"value": -55}, "y": {"field": "line", "type": "ordinal", "axis": null, "scale": {"type": "point", "domain": [1, 2, 3, 4], "range": [27, 90], "padding": 0}}, "text": {"field": "t"}}},
{"data": {"values": [{"line": 1, "t": "Association of Apal polymorphism with clinical parameters in HBV patients. CHB, chronic hepatitis B; LC, liver cirrhosis; HCC, hepatocellular"}]},
 "mark": {"type": "text", "align": "left", "baseline": "alphabetic", "font": "Lato", "fontSize": 19.4, "color": "#333333"},
 "encoding": {"x": {"value": -2}, "y": {"field": "line", "type": "ordinal", "axis": null, "scale": {"type": "point", "domain": [1, 2, 3, 4], "range": [27, 90], "padding": 0}}, "text": {"field": "t"}}},
{"data": {"values": [{"line": 2, "t": "carcinoma; PLT, platelets; AST and ALT, aspartate and alanine amino transferase; WBC, white blood cells; RBC, red blood cells; PLT, platelets; IU,"}, {"line": 3, "t": "international unit; NS, not significant. Box-plots illustrate medians with 25 and 75 percentiles with whiskers to 10 and 90 percentiles."}, {"line": 4, "t": "were calculated by Man-Whitney Wilcoxon test"}]},
 "mark": {"type": "text", "align": "left", "baseline": "alphabetic", "font": "Lato", "fontSize": 19.4, "color": "#333333"},
 "encoding": {"x": {"value": -55}, "y": {"field": "line", "type": "ordinal", "axis": null, "scale": {"type": "point", "domain": [1, 2, 3, 4], "range": [27, 90], "padding": 0}}, "text": {"field": "t"}}},
{"data": {"values": [{"line": 3, "t": "P"}]},
 "mark": {"type": "text", "align": "left", "baseline": "alphabetic", "font": "Lato", "fontSize": 19.4, "fontStyle": "italic", "color": "#333333"},
 "encoding": {"x": {"value": 1073}, "y": {"field": "line", "type": "ordinal", "axis": null, "scale": {"type": "point", "domain": [1, 2, 3, 4], "range": [27, 90], "padding": 0}}, "text": {"field": "t"}}},
{"data": {"values": [{"line": 3, "t": "values"}]},
 "mark": {"type": "text", "align": "left", "baseline": "alphabetic", "font": "Lato", "fontSize": 19.4, "color": "#333333"},
 "encoding": {"x": {"value": 1092}, "y": {"field": "line", "type": "ordinal", "axis": null, "scale": {"type": "point", "domain": [1, 2, 3, 4], "range": [27, 90], "padding": 0}}, "text": {"field": "t"}}}
]
}
],
"config": {
 "font": "Liberation Sans",
 "view": {"fill": "#BDD7EE", "stroke": "#4D4D4D", "strokeWidth": 1},
 "axis": {"labelFont": "Liberation Sans", "titleFont": "Liberation Sans", "labelFontSize": 17, "titleFontSize": 18.5, "labelColor": "#4D4D4D", "titleColor": "#000000", "titleFontWeight": "normal", "domain": false, "gridColor": "#FFFFFF", "gridOpacity": 1, "tickColor": "#333333", "tickSize": 3, "labelPadding": 2, "titlePadding": 2, "labelOverlap": false, "labelFlush": false},
 "legend": {"padding": 0}
}
}
